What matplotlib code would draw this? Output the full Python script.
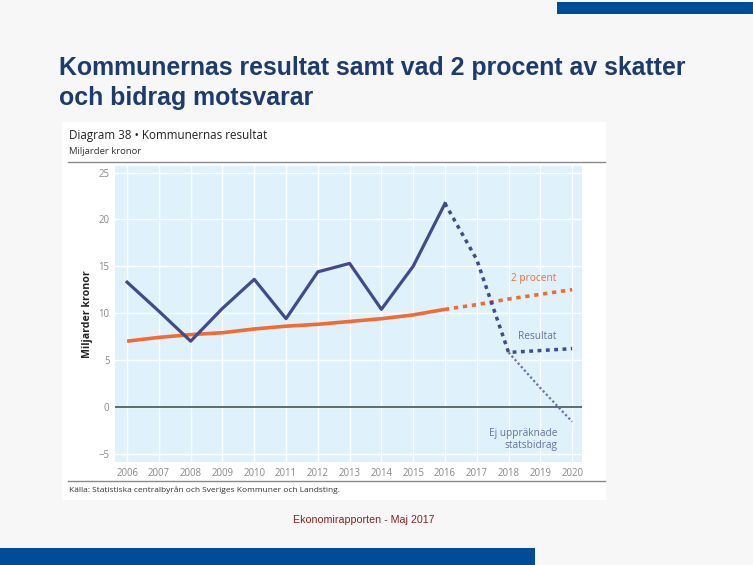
import matplotlib
matplotlib.use("Agg")
import matplotlib.pyplot as plt
from matplotlib.patches import Rectangle

W, H = 753, 565

years = list(range(2006, 2021))
resultat_years = list(range(2006, 2017))
resultat = [13.3, 10.2, 7.0, 10.5, 13.6, 9.4, 14.4, 15.3, 10.4, 15.0, 21.7]
resultat_prog_years = [2016, 2017, 2018, 2019, 2020]
resultat_prog = [21.7, 15.7, 5.8, 6.0, 6.2]
ej_years = [2018, 2019, 2020]
ej_upprak = [5.8, 2.0, -1.6]
procent_years = list(range(2006, 2017))
procent = [7.0, 7.4, 7.7, 7.9, 8.3, 8.6, 8.8, 9.1, 9.4, 9.8, 10.4]
procent_prog_years = [2016, 2017, 2018, 2019, 2020]
procent_prog = [10.4, 10.9, 11.5, 12.0, 12.5]
yticks = [-5, 0, 5, 10, 15, 20, 25]

NAVY = "#414a8c"
ORANGE = "#f26b33"
LABEL_NAVY = "#6b6fa0"
BLUE_BG = "#dff2fc"

fig = plt.figure(figsize=(W / 100, H / 100), dpi=100)
fig.patch.set_facecolor("#f7f7f7")

def fx(x):
    return x / W

def fy(y):
    return 1 - y / H

def rect(x0, y0, x1, y1, color, z=0):
    fig.add_artist(Rectangle((fx(x0), fy(y1)), fx(x1) - fx(x0), fy(y0) - fy(y1),
                             transform=fig.transFigure, facecolor=color,
                             edgecolor="none", zorder=z))

# slide decorations
rect(557, 2, 753, 14, "#004c97")
rect(0, 548, 535, 565, "#004c97")
rect(62, 122, 606, 500, "white")

# slide title
fig.text(fx(59), fy(68), "Kommunernas resultat samt vad 2 procent av skatter",
         family="Liberation Sans", weight="bold", fontsize=17.9, color="#1e3b6e",
         va="center", ha="left")
fig.text(fx(59), fy(98), "och bidrag motsvarar",
         family="Liberation Sans", weight="bold", fontsize=17.9, color="#1e3b6e",
         va="center", ha="left")

# chart header
fig.text(fx(69), fy(135), "Diagram 38 \u2022 Kommunernas resultat", family="Open Sans",
         fontsize=8.4, color="#222222", va="center", ha="left")
fig.text(fx(69), fy(152), "Miljarder kronor", family="Open Sans",
         fontsize=6.8, color="#333333", va="center", ha="left")
fig.add_artist(plt.Line2D([fx(68), fx(605)], [fy(162), fy(162)], transform=fig.transFigure,
                          color="#8a8a8a", lw=1.0))
fig.add_artist(plt.Line2D([fx(68), fx(605)], [fy(481), fy(481)], transform=fig.transFigure,
                          color="#8a8a8a", lw=1.0))
fig.text(fx(69), fy(490), "K\u00e4lla: Statistiska centralbyr\u00e5n och Sveriges Kommuner och Landsting.",
         family="Open Sans", fontsize=6.0, color="#333333", va="center", ha="left")

fig.text(fx(364), fy(520), "Ekonomirapporten - Maj 2017", family="Liberation Sans",
         fontsize=7.7, color="#8b2020", va="center", ha="center")

# plot axes
ax = fig.add_axes([fx(115), fy(462), fx(582) - fx(115), fy(166) - fy(462)])
ax.set_facecolor(BLUE_BG)
ax.set_xlim(2005.62, 2020.31)
ax.set_ylim(-5.9, 25.7)
for s in ax.spines.values():
    s.set_visible(False)
ax.set_xticks(years)
ax.set_xticklabels([str(y) for y in years])
ax.set_yticks(yticks)
ax.tick_params(length=0, labelsize=6.9, labelcolor="#8a8a8a", pad=4)
for lab in ax.get_xticklabels() + ax.get_yticklabels():
    lab.set_family("Open Sans")
ax.grid(True, color="white", lw=1.0)
ax.set_axisbelow(True)
ax.axhline(0, color="#5c6b6b", lw=1.4, zorder=2)

ax.set_ylabel("Miljarder kronor", family="Open Sans", fontsize=7.6, weight="bold",
              color="#222222", labelpad=4)

ax.plot(procent_years, procent, color=ORANGE, lw=2.6, solid_capstyle="butt", zorder=3)
ax.plot(procent_prog_years, procent_prog, color=ORANGE, lw=2.6, linestyle=(0, (1.2, 1.3)), zorder=3)
ax.plot(resultat_years, resultat, color=NAVY, lw=2.3, zorder=4)
ax.plot(resultat_prog_years, resultat_prog, color=NAVY, lw=2.5, linestyle=(0, (1.1, 1.3)), zorder=4)
ax.plot(ej_years, ej_upprak, color=LABEL_NAVY, lw=1.6, linestyle=(0, (1, 1.1)), zorder=4)

ax.text(2018.8, 13.7, "2 procent", color=ORANGE, fontsize=7.3, family="Open Sans",
        ha="center", va="center")
ax.text(2018.9, 7.5, "Resultat", color=LABEL_NAVY, fontsize=7.3, family="Open Sans",
        ha="center", va="center")
ax.text(2019.55, -3.5, "Ej uppr\u00e4knade\nstatsbidrag", color=LABEL_NAVY, fontsize=7.3,
        family="Open Sans", ha="right", va="center", multialignment="right", linespacing=1.15)

fig.savefig("out.png", dpi=100, facecolor=fig.get_facecolor())
